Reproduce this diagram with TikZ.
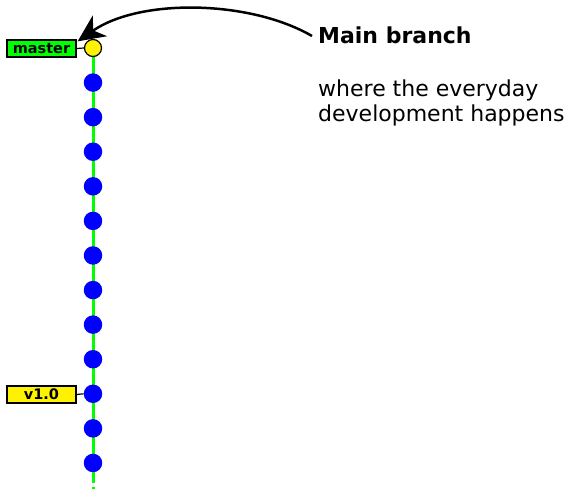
\documentclass[tikz,border=0pt]{standalone}
\usepackage{fontspec}
\setmainfont{DejaVu Sans}
\usetikzlibrary{arrows.meta}
\begin{document}
\begin{tikzpicture}[x=1pt,y=-1pt,
  commit/.style={circle,fill=blue,draw=none,minimum size=18.5pt,inner sep=0pt},
  head/.style={circle,fill=yellow,draw=black,line width=1.2pt,minimum size=17pt,inner sep=0pt},
  reflabel/.style={draw=black,line width=1.3pt,minimum width=69pt,minimum height=17pt,inner sep=0pt,font=\fontsize{14.5}{14.5}\selectfont\bfseries},
  trunk/.style={draw={rgb,255:red,0;green,255;blue,0},line width=3pt},
  note/.style={anchor=base west,inner sep=0pt,align=left}]
\useasboundingbox (0,0) rectangle (568,489);
% main line of history
\coordinate (top) at (93,48);
\coordinate (solidend) at (93,479);
\coordinate (bottom) at (93,489);
\draw[trunk] (top) -- (solidend);
\draw[trunk,dash pattern=on 4pt off 4pt] (solidend) -- (bottom);
% commits
\node[head] (c0) at (93,48) {};
\foreach \i in {1,...,12} {
  \node[commit] (c\i) at (93,{48+34.58*\i}) {};
}
% refs
\node[reflabel,fill={rgb,255:red,0;green,255;blue,0}] (master) at (41.5,48.5) {master};
\node[reflabel,fill=yellow] (v10) at (41.5,394.5) {v1.0};
\draw[line width=1.2pt] (master.east) -- (c0.west);
\draw[line width=1.2pt] (v10.east) -- (c10.west);
% annotation
\node[note,font=\fontsize{22}{22}\selectfont\bfseries] (title) at (318,44) {Main branch};
\node[note,font=\fontsize{22}{25}\selectfont] (desc) at (318,122) {where the everyday\\development happens};
\coordinate (from) at (312,36);
\draw[line width=2.5pt,-{Stealth[length=27pt,width=25pt,inset=8pt]}] (from) .. controls (250,0) and (140,-2) .. ([xshift=1pt,yshift=-2pt]master.north east);
\end{tikzpicture}
\end{document}
